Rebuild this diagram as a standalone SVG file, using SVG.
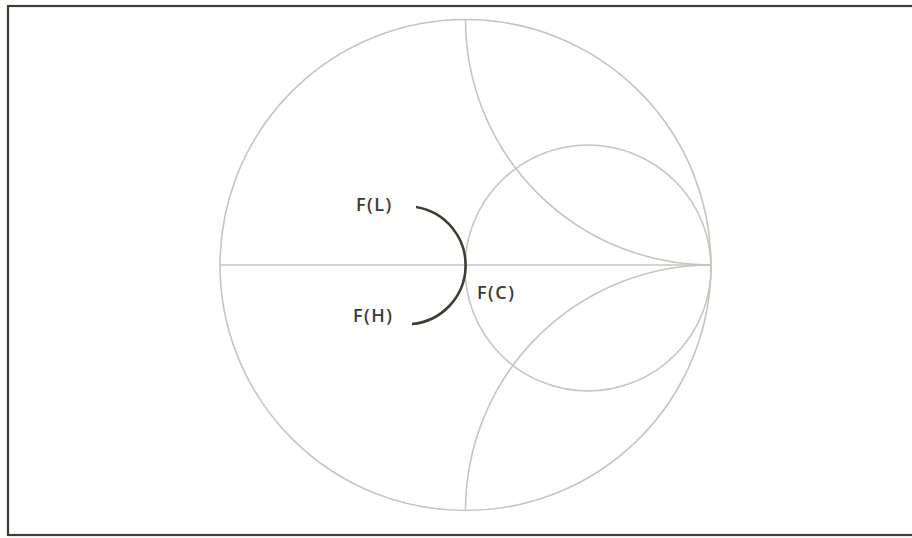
<svg xmlns="http://www.w3.org/2000/svg" width="912" height="538" viewBox="0 0 912 538">
<style>
.grid{fill:none;stroke:#c4c6c0;stroke-width:1.6}
.curve{fill:none;stroke:#3a3d36;stroke-width:2.6}
.lbl{font-family:"Open Sans","DejaVu Sans",sans-serif;font-size:18px;font-weight:600;letter-spacing:1.5px;fill:#383c34}
</style>
<rect width="912" height="538" fill="#fff"/>
<rect x="8" y="6" width="912" height="529" fill="none" stroke="#3a4038" stroke-width="2.2"/>
<g id="chart">
<circle class="grid" cx="465.5" cy="265" r="245.5"/>
<line class="grid" x1="220" y1="265" x2="711" y2="265"/>
<circle class="grid" cx="588" cy="268" r="123"/>
<path class="grid" d="M465.5,19.5 A245.5,245.5 0 0 0 711,265"/>
<path class="grid" d="M711,265 A245.5,245.5 0 0 0 465.5,510.5"/>
</g>
<g id="connectors">
<path class="curve" d="M416,207 A59,59 0 0 1 412,324"/>
</g>
<g id="labels">
<text class="lbl" x="356" y="211">F(L)</text>
<text class="lbl" x="353" y="322">F(H)</text>
<text class="lbl" x="477" y="299">F(C)</text>
</g>
</svg>
